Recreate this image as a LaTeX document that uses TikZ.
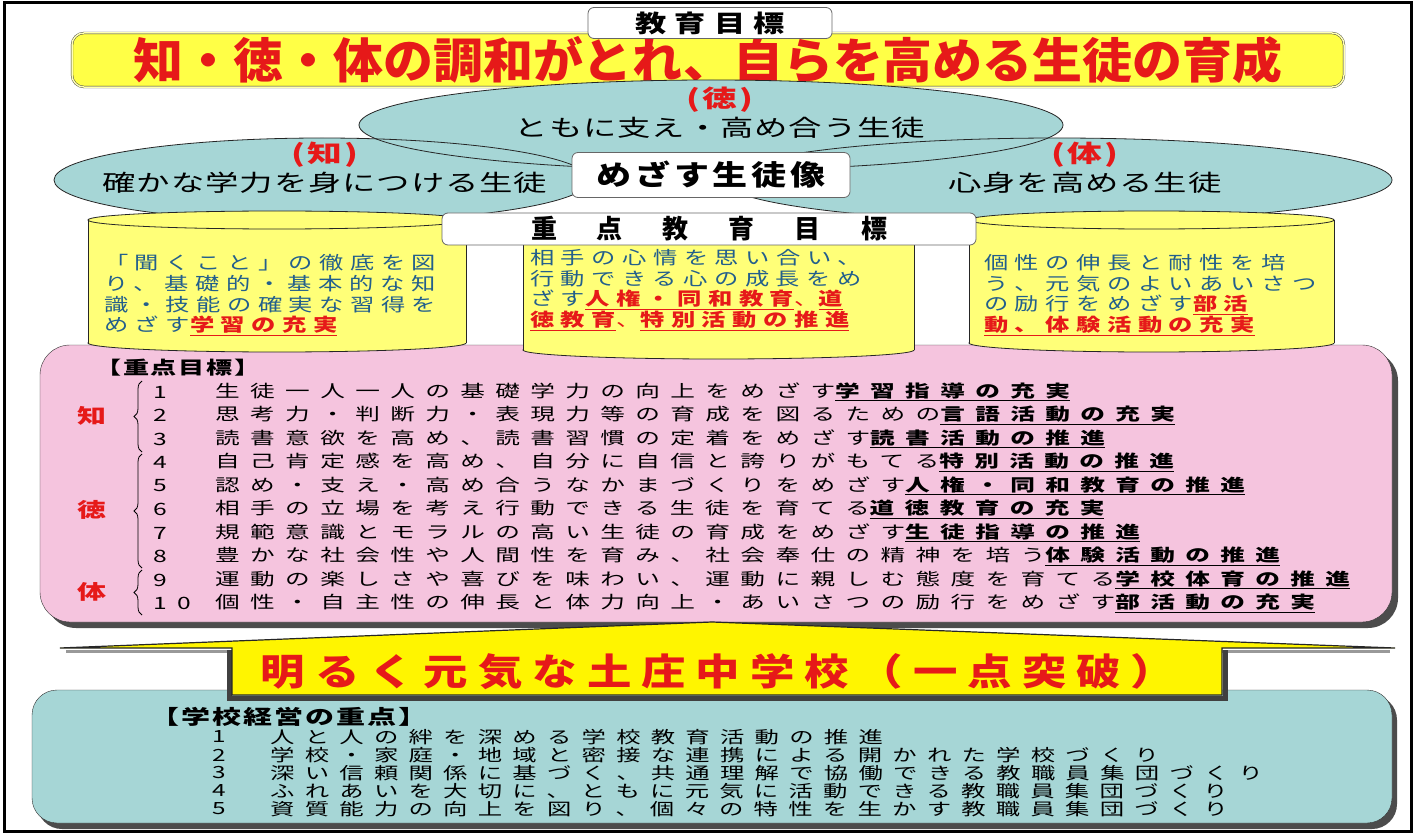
\documentclass[tikz,border=0pt]{standalone}
\usepackage{fontspec}
\usetikzlibrary{decorations.pathreplacing}
\newfontfamily\jp{Noto Sans CJK JP}
\newfontfamily\jptitle{Noto Sans CJK JP}[FakeStretch=1.04]
\newfontfamily\jphead{Noto Sans CJK JP}[FakeStretch=1.3, LetterSpace=35]
\newfontfamily\jpaim{Noto Sans CJK JP}[FakeStretch=1.25, LetterSpace=14]
\newfontfamily\jpoval{Noto Sans CJK JP}[FakeStretch=1.45, LetterSpace=4]
\newfontfamily\jpcyl{Noto Sans CJK JP}[FakeStretch=1.35, LetterSpace=36]
\newfontfamily\jpitem{Noto Sans CJK JP}[FakeStretch=1.45, LetterSpace=61]
\newfontfamily\jpsub{Noto Sans CJK JP}[FakeStretch=1.45, LetterSpace=10]
\newfontfamily\jpmotto{Noto Sans CJK JP}[FakeStretch=1.2, LetterSpace=27]
\definecolor{goalred}{RGB}{230,25,25}
\definecolor{goalyellow}{RGB}{255,255,70}
\definecolor{cylyellow}{RGB}{255,255,120}
\definecolor{arrowyellow}{RGB}{255,245,0}
\definecolor{ovalteal}{RGB}{166,214,214}
\definecolor{panelpink}{RGB}{245,196,222}
\definecolor{cyltext}{RGB}{35,95,140}
\newcommand\redkey[1]{{\color{goalred}\bfseries\underline{#1}}}
\newcommand\blackkey[1]{{\bfseries\underline{#1}}}
\begin{document}
\begin{tikzpicture}
[
x=1pt, y=-1pt,
head/.style={rectangle, rounded corners=6pt, draw=black!60, fill=white, thick, inner sep=0pt, font=\jphead\bfseries\fontsize{24}{26}\selectfont},
goal/.style={rectangle, rounded corners=12pt, draw=black!80, double=goalyellow!40!white, double distance=1.5pt, fill=goalyellow, minimum width=1272pt, minimum height=54pt, text=goalred, font=\jptitle\bfseries\fontsize{48}{52}\selectfont},
ovaltag/.style={text=goalred, inner sep=0pt, font=\jpsub\bfseries\fontsize{24}{26}\selectfont},
ovaltext/.style={inner sep=0pt, font=\jpoval\fontsize{23}{25}\selectfont},
cyltxt/.style={anchor=north west, align=left, inner sep=0pt, text=cyltext, font=\jpcyl\fontsize{18}{20.8}\selectfont},
item/.style={anchor=west, inner sep=0pt, font=\jpitem\fontsize{17}{19}\selectfont},
sitem/.style={anchor=west, inner sep=0pt, font=\jpitem\fontsize{16.8}{18}\selectfont},
tag/.style={text=goalred, inner sep=0pt, font=\jpsub\bfseries\fontsize{20}{22}\selectfont},
]
\useasboundingbox (0,0) rectangle (1415,834);
\fill[white] (0,0) rectangle (1415,834);
\draw[line width=3pt] (4,3) rectangle (1411,831);

% top goal
\node at (708,60) [goal] (goal) {知・徳・体の調和がとれ、自らを高める生徒の育成};
\node at (710,23) [head, minimum width=244pt, minimum height=31pt] (goalhead) {教育目標};

% three ovals
\fill[ovalteal] (322,180) ellipse (268 and 42);
\fill[ovalteal] (1057,180) ellipse (335 and 42);
\fill[ovalteal] (711,125) ellipse (352 and 45);
\draw[black!85, thick] (322,180) ellipse (268 and 42);
\draw[black!85, thick] (1057,180) ellipse (335 and 42);
\draw[black!85, thick] (711,125) ellipse (352 and 45);

\node at (720,100) [ovaltag] (tagtoku) {(徳)};
\node at (720,128) [ovaltext] (toku) {ともに支え・高め合う生徒};
\node at (325,155) [ovaltag] (tagchi) {(知)};
\node at (325,183) [ovaltext] (chi) {確かな学力を身につける生徒};
\node at (1085,155) [ovaltag] (tagtai) {(体)};
\node at (1085,183) [ovaltext] (tai) {心身を高める生徒};
\node at (711,175) [head, minimum width=278pt, minimum height=45pt, font=\jpaim\bfseries\fontsize{28}{30}\selectfont] (aim) {めざす生徒像};

% pink panel
\fill[black!70, rounded corners=30pt] (46,351) rectangle (1398,628);
\draw[black!80, fill=panelpink, rounded corners=30pt] (40,345) rectangle (1392,622);

% cylinders
\foreach \xa/\xb/\ya/\yb in {88/466/220/343, 523/914/228/350, 969/1334/220/343}
{
\pgfmathsetmacro\xc{(\xa+\xb)/2}
\pgfmathsetmacro\rx{(\xb-\xa)/2}
\draw[black!85, thick, fill=cylyellow] (\xc,\yb) ellipse [x radius=\rx, y radius=9];
\fill[cylyellow] (\xa,\ya) rectangle (\xb,\yb);
\draw[black!85, thick] (\xa,\ya) -- (\xa,\yb);
\draw[black!85, thick] (\xb,\ya) -- (\xb,\yb);
\draw[black!85, thick, fill=cylyellow] (\xc,\ya) ellipse [x radius=\rx, y radius=9];
}
\node at (709,229) [head, minimum width=534pt, minimum height=32pt, font=\jp\bfseries\fontsize{26}{28}\selectfont] (focus) {重\hspace{40pt}点\hspace{40pt}教\hspace{40pt}育\hspace{40pt}目\hspace{40pt}標};

\node at (104,254) [cyltxt] (cylchi) {「聞くこと」の徹底を図\\り、基礎的・基本的な知\\識・技能の確実な習得を\\めざす\redkey{学習の充実}};
\node at (530,249) [cyltxt] (cyltoku) {相手の心情を思い合い、\\行動できる心の成長をめ\\ざす\redkey{人権・同和教育}{\color{goalred}、}\redkey{道}\\\redkey{徳教育}{\color{goalred}、}\redkey{特別活動の推進}};
\node at (984,254) [cyltxt] (cyltai) {個性の伸長と耐性を培\\う、元気のよいあいさつ\\の励行をめざす\redkey{部活}\\\redkey{動、体験活動の充実}};

% key goals
\node at (95,368) [anchor=west, inner sep=0pt, font=\jpsub\bfseries\fontsize{18}{20}\selectfont] (keyhead) {【重点目標】};
\foreach \n/\plain/\key [count=\i] in {
1/生徒一人一人の基礎学力の向上をめざす/学習指導の充実,
2/思考力・判断力・表現力等の育成を図るための/言語活動の充実,
3/読書意欲を高め、読書習慣の定着をめざす/読書活動の推進,
4/自己肯定感を高め、自分に自信と誇りがもてる/特別活動の推進,
5/認め・支え・高め合うなかまづくりをめざす/人権・同和教育の推進,
6/相手の立場を考え行動できる生徒を育てる/道徳教育の充実,
7/規範意識とモラルの高い生徒の育成をめざす/生徒指導の推進,
8/豊かな社会性や人間性を育み、社会奉仕の精神を培う/体験活動の推進,
9/運動の楽しさや喜びを味わい、運動に親しむ態度を育てる/学校体育の推進,
10/個性・自主性の伸長と体力向上・あいさつの励行をめざす/部活動の充実}
{
\pgfmathsetmacro\yy{392+(\i-1)*23.5}
\node at (153,\yy) [item] (no\n) {\n};
\node at (215,\yy) [item] (key\n) {\plain\blackkey{\key}};
}
\draw[decorate, decoration={brace, amplitude=8pt}, thick] (142,452) -- (142,381);
\draw[decorate, decoration={brace, amplitude=8pt}, thick] (142,568) -- (142,454);
\draw[decorate, decoration={brace, amplitude=8pt}, thick] (142,615) -- (142,570);
\node at (92,416) [tag] (tchi) {知};
\node at (92,510) [tag] (ttoku) {徳};
\node at (92,592) [tag] (ttai) {体};

% school management
\fill[black!70, rounded corners=25pt] (37,695) rectangle (1397,829);
\draw[black!80, fill=ovalteal, rounded corners=25pt] (32,690) rectangle (1392,823);
\node at (150,717) [anchor=west, inner sep=0pt, font=\jpsub\bfseries\fontsize{20}{22}\selectfont] (planhead) {【学校経営の重点】};
\foreach \n/\txt [count=\i] in {
1/人と人の絆を深める学校教育活動の推進,
2/学校・家庭・地域と密接な連携による開かれた学校づくり,
3/深い信頼関係に基づく、共通理解で協働できる教職員集団づくり,
4/ふれあいを大切に、ともに元気に活動できる教職員集団づくり,
5/資質能力の向上を図り、個々の特性を生かす教職員集団づくり}
{
\pgfmathsetmacro\yy{737+(\i-1)*18}
\node at (212,\yy) [sitem] (pno\n) {\n};
\node at (270,\yy) [sitem] (plan\n) {\txt};
}

% arrow
\draw[black!40, line width=3pt] (66,651) -- (232,651);
\draw[black!40, line width=3pt] (1222,651) -- (1390,651);
\draw[black!75, line width=5pt] (229,650) -- (229,698) -- (1225,698) -- (1225,650);
\draw[black!85, line width=1.2pt, fill=arrowyellow] (60,648) -- (712,622) -- (1395,648) -- (1222,648) -- (1222,695) -- (232,695) -- (232,648) -- cycle;
\node at (718,672) [inner sep=0pt, text=goalred, font=\jpmotto\bfseries\fontsize{37}{40}\selectfont] (motto) {明るく元気な土庄中学校（一点突破）};
\end{tikzpicture}
\end{document}
